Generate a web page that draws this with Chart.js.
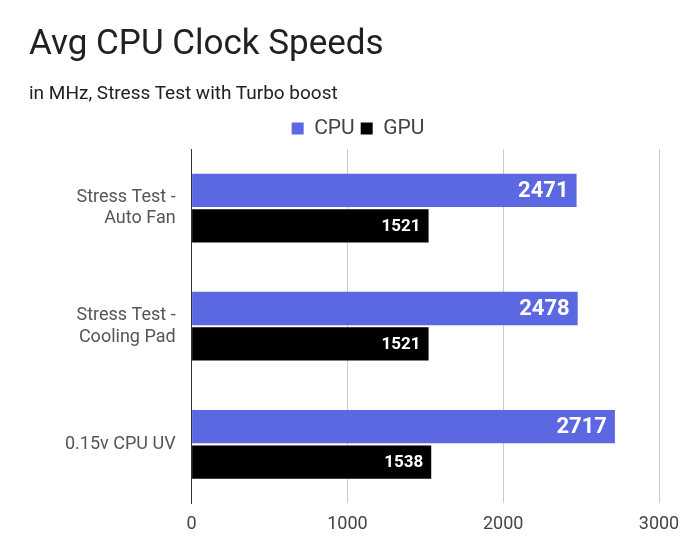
<!DOCTYPE html>
<html>
<head>
<meta charset="utf-8">
<script src="https://cdn.jsdelivr.net/npm/chart.js@4"></script>
<style>
  body { margin: 0; background: #fff; font-family: Roboto, sans-serif; }
  #wrap { position: relative; width: 695px; height: 551px; }
  #title { position: absolute; left: 29px; top: 22px; font-size: 35px; color: #212121; }
  #subtitle { position: absolute; left: 29px; top: 81px; font-size: 19px; color: #212121; }
</style>
</head>
<body>
<div id="wrap">
  <canvas id="chart" width="695" height="551"></canvas>
  <div id="title">Avg CPU Clock Speeds</div>
  <div id="subtitle">in MHz, Stress Test with Turbo boost</div>
</div>
<script>
const categories = [["Stress Test -", "Auto Fan"], ["Stress Test -", "Cooling Pad"], "0.15v CPU UV"];
const cpuValues = [2471, 2478, 2717];
const gpuValues = [1521, 1521, 1538];

const barLabels = {
  id: "barLabels",
  afterDatasetsDraw(chart) {
    const ctx = chart.ctx;
    ctx.save();
    ctx.fillStyle = "#fff";
    ctx.textAlign = "right";
    ctx.textBaseline = "middle";
    chart.data.datasets.forEach((ds, i) => {
      ctx.font = i === 0 ? "bold 22px Roboto" : "bold 17px Roboto";
      chart.getDatasetMeta(i).data.forEach((bar, j) => {
        ctx.fillText(ds.data[j], bar.x - 8, bar.y + 1);
      });
    });
    ctx.restore();
  }
};

new Chart(document.getElementById("chart"), {
  type: "bar",
  data: {
    labels: categories,
    datasets: [
      { label: "CPU", data: cpuValues, backgroundColor: "#5c68e2" },
      { label: "GPU", data: gpuValues, backgroundColor: "#000000" }
    ]
  },
  options: {
    indexAxis: "y",
    responsive: false,
    animation: false,
    categoryPercentage: 0.6,
    barPercentage: 0.94,
    layout: { padding: { top: 112, right: 36, left: 57, bottom: 6 } },
    plugins: {
      legend: {
        labels: { boxWidth: 12, boxHeight: 12, font: { size: 21, family: "Roboto" }, color: "#444", padding: 6 }
      },
      tooltip: { enabled: false }
    },
    scales: {
      x: {
        min: 0, max: 3000,
        ticks: { stepSize: 1000, callback: (v) => String(v), font: { size: 18, family: "Roboto" }, color: "#444", padding: 10 },
        grid: { color: "#ccc", drawTicks: false },
        border: { display: false }
      },
      y: {
        ticks: { font: { size: 18, family: "Roboto" }, color: "#555", padding: 8 },
        grid: { display: false },
        border: { color: "#333" }
      }
    }
  },
  plugins: [barLabels]
});
</script>
</body>
</html>
